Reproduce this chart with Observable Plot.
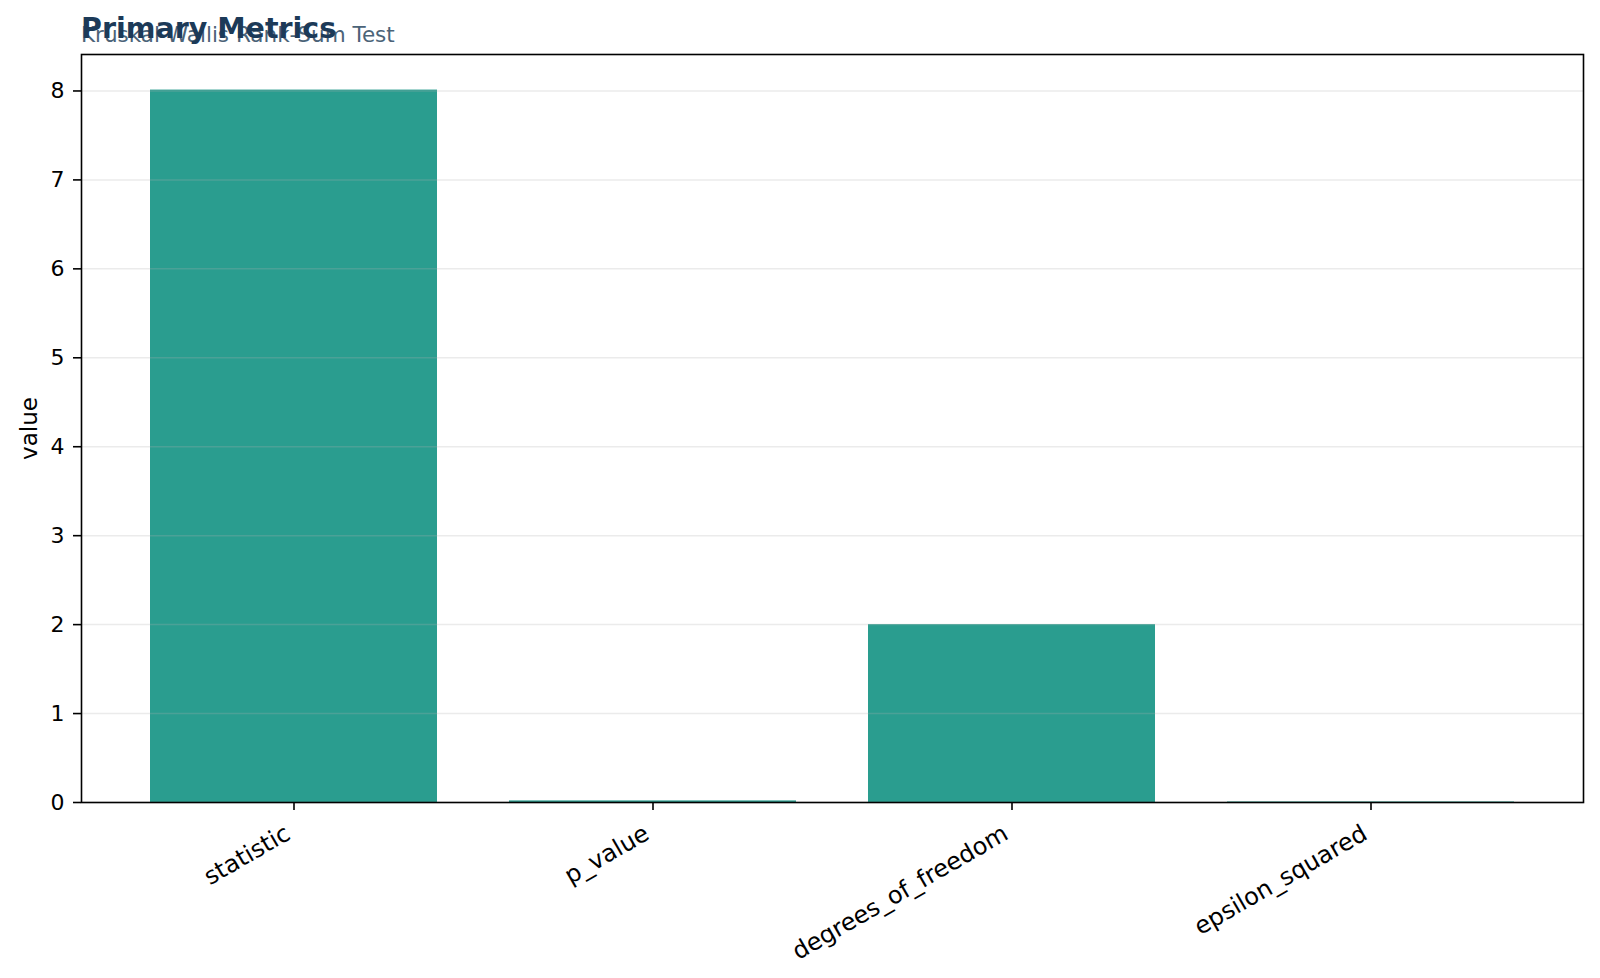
<!DOCTYPE html>
<html>
<head>
<meta charset="utf-8">
<script src="https://cdn.jsdelivr.net/npm/d3@7"></script>
<script src="https://cdn.jsdelivr.net/npm/@observablehq/plot@0.6"></script>
<style>
  html, body { margin: 0; padding: 0; background: #fff; }
  #wrap { position: relative; width: 1600px; height: 978px; font-family: "DejaVu Sans", sans-serif; }
  #title { position: absolute; left: 81px; top: 15px; font-size: 28.5px; font-weight: bold; color: #1c3a58; white-space: nowrap; line-height: 1; z-index: 2; }
  #subtitle { position: absolute; left: 81px; top: 23.5px; font-size: 21.5px; color: #4b6378; white-space: nowrap; line-height: 1; z-index: 1; }
  #chart { position: absolute; left: 0; top: 0; }
</style>
</head>
<body>
<div id="wrap">
  <div id="subtitle">Kruskal-Wallis Rank-Sum Test</div>
  <div id="title">Primary Metrics</div>
  <div id="chart"></div>
</div>
<script>
const categories = ["statistic", "p_value", "degrees_of_freedom", "epsilon_squared"];
const values = [8.01, 0.018, 2.0, 0.006];
const yTicks = [0, 1, 2, 3, 4, 5, 6, 7, 8];

const data = categories.map((c, i) => ({metric: c, value: values[i]}));

const chart = Plot.plot({
  width: 1600,
  height: 978,
  marginLeft: 81,
  marginRight: 17,
  marginTop: 54,
  marginBottom: 176,
  style: {fontFamily: "DejaVu Sans, sans-serif", fontSize: "22px", color: "#000", background: "#fff"},
  x: {type: "band", domain: categories, paddingInner: 0.2, paddingOuter: 0.19},
  y: {domain: [0, 8.41]},
  marks: [
    Plot.barY(data, {x: "metric", y: "value", fill: "#2a9d8f"}),
    Plot.gridY(yTicks, {stroke: "#b0b0b0", strokeOpacity: 0.25, strokeWidth: 1.5}),
    Plot.frame({stroke: "#000", strokeWidth: 1.6}),
    Plot.axisY(yTicks, {tickSize: 8, tickPadding: 9, strokeWidth: 1.6, label: null, fontSize: 22, tickFormat: d3.format("d")}),
    Plot.axisX({tickSize: 8, strokeWidth: 1.6, label: null, tickFormat: () => ""}),
    Plot.axisX({tickSize: 0, tickPadding: 29, tickRotate: -30, label: null, fontSize: 24, dx: -6}),
    Plot.text(["value"], {frameAnchor: "left", textAnchor: "middle", dx: -52, rotate: -90, fontSize: 23, fill: "#000"})
  ]
});
document.getElementById("chart").appendChild(chart);
</script>
</body>
</html>
